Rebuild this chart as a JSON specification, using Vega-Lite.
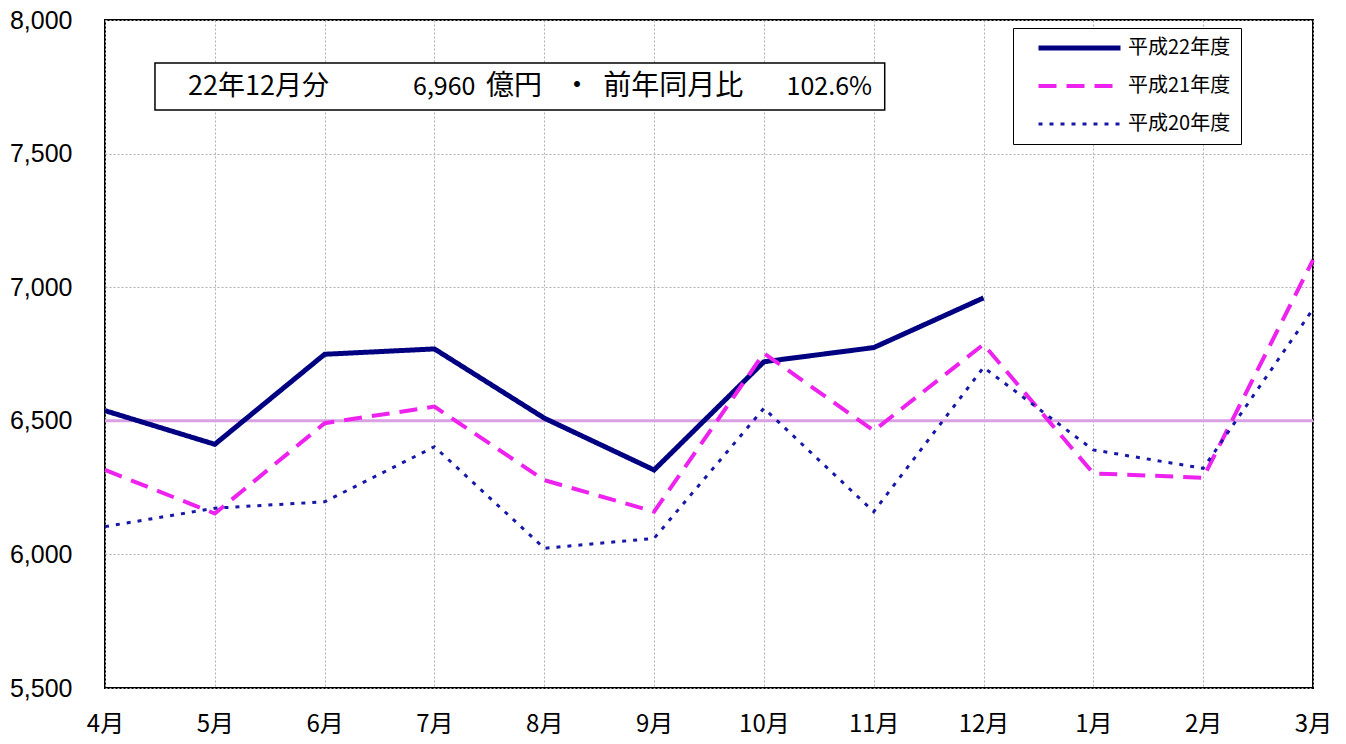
{
  "$schema": "https://vega.github.io/schema/vega-lite/v6.json",
  "width": 1208,
  "height": 668,
  "autosize": {"type": "none"},
  "padding": {"left": 105, "top": 20, "right": 33, "bottom": 56},
  "background": "white",
  "config": {
    "view": {"stroke": "black", "strokeWidth": 2},
    "font": "Noto Sans CJK JP",
    "axis": {"domain": false, "ticks": false, "gridColor": "#b0b0b0", "gridDash": [2, 2], "gridWidth": 1, "labelColor": "black", "title": null}
  },
  "layer": [
    {
      "data": {"values": [{}]},
      "mark": {"type": "rule", "color": "#d9a0e3", "strokeWidth": 3},
      "encoding": {"y": {"datum": 6500, "type": "quantitative"}}
    },
    {
      "data": {"values": [
        {"series": "平成22年度", "m": 0, "value": 6538},
        {"series": "平成22年度", "m": 1, "value": 6412},
        {"series": "平成22年度", "m": 2, "value": 6749},
        {"series": "平成22年度", "m": 3, "value": 6769},
        {"series": "平成22年度", "m": 4, "value": 6510},
        {"series": "平成22年度", "m": 5, "value": 6316},
        {"series": "平成22年度", "m": 6, "value": 6721},
        {"series": "平成22年度", "m": 7, "value": 6774},
        {"series": "平成22年度", "m": 8, "value": 6960},
        {"series": "平成21年度", "m": 0, "value": 6316},
        {"series": "平成21年度", "m": 1, "value": 6153},
        {"series": "平成21年度", "m": 2, "value": 6491},
        {"series": "平成21年度", "m": 3, "value": 6553},
        {"series": "平成21年度", "m": 4, "value": 6278},
        {"series": "平成21年度", "m": 5, "value": 6160},
        {"series": "平成21年度", "m": 6, "value": 6753},
        {"series": "平成21年度", "m": 7, "value": 6463},
        {"series": "平成21年度", "m": 8, "value": 6786},
        {"series": "平成21年度", "m": 9, "value": 6303},
        {"series": "平成21年度", "m": 10, "value": 6287},
        {"series": "平成21年度", "m": 11, "value": 7102},
        {"series": "平成20年度", "m": 0, "value": 6104},
        {"series": "平成20年度", "m": 1, "value": 6173},
        {"series": "平成20年度", "m": 2, "value": 6197},
        {"series": "平成20年度", "m": 3, "value": 6403},
        {"series": "平成20年度", "m": 4, "value": 6023},
        {"series": "平成20年度", "m": 5, "value": 6060},
        {"series": "平成20年度", "m": 6, "value": 6547},
        {"series": "平成20年度", "m": 7, "value": 6160},
        {"series": "平成20年度", "m": 8, "value": 6700},
        {"series": "平成20年度", "m": 9, "value": 6391},
        {"series": "平成20年度", "m": 10, "value": 6322},
        {"series": "平成20年度", "m": 11, "value": 6918}
      ]},
      "mark": {"type": "line", "strokeCap": "butt"},
      "encoding": {
        "x": {
          "field": "m", "type": "quantitative",
          "scale": {"domain": [0, 11], "nice": false, "zero": false},
          "axis": {
            "values": [0, 1, 2, 3, 4, 5, 6, 7, 8, 9, 10, 11],
            "labelExpr": "['4月','5月','6月','7月','8月','9月','10月','11月','12月','1月','2月','3月'][datum.value]",
            "labelFontSize": 24, "labelPadding": 24, "labelFont": "Noto Sans CJK JP",
            "labelFlush": false, "labelOverlap": false, "grid": true
          }
        },
        "y": {
          "field": "value", "type": "quantitative",
          "scale": {"domain": [5500, 8000], "nice": false, "zero": false},
          "axis": {
            "values": [5500, 6000, 6500, 7000, 7500, 8000],
            "format": ",.0f", "labelFontSize": 25, "labelFont": "Liberation Sans",
            "labelPadding": 33, "grid": true
          }
        },
        "color": {
          "field": "series", "type": "nominal",
          "scale": {"domain": ["平成22年度", "平成21年度", "平成20年度"], "range": ["#000080", "#ee22ee", "#1818a8"]},
          "legend": {
            "orient": "none", "legendX": 908, "legendY": 8, "title": null,
            "strokeColor": "black", "fillColor": "white", "padding": 10,
            "clipHeight": 20, "rowPadding": 18, "symbolType": "stroke",
            "symbolSize": 6724, "symbolOffset": 13, "labelOffset": 5,
            "labelFontSize": 20, "labelFont": "Noto Sans CJK JP", "labelColor": "black",
            "labelLimit": 300
          }
        },
        "strokeDash": {
          "field": "series", "type": "nominal",
          "scale": {"domain": ["平成22年度", "平成21年度", "平成20年度"], "range": [[1, 0], [18, 10], [4, 7]]},
          "legend": null
        },
        "strokeWidth": {
          "field": "series", "type": "nominal",
          "scale": {"domain": ["平成22年度", "平成21年度", "平成20年度"], "range": [5, 3, 3.5]},
          "legend": null
        }
      }
    },
    {
      "data": {"values": [{}]},
      "mark": {"type": "rect", "fill": "white", "stroke": "black", "strokeWidth": 1.5},
      "encoding": {
        "x": {"datum": 0.455, "type": "quantitative"},
        "x2": {"datum": 7.1},
        "y": {"datum": 7839, "type": "quantitative"},
        "y2": {"datum": 7663}
      }
    },
    {
      "data": {"values": [{}]},
      "mark": {"type": "text", "text": "22年12月分", "align": "left", "baseline": "middle", "fontSize": 27, "font": "Noto Sans CJK JP", "color": "black"},
      "encoding": {"x": {"datum": 0.756, "type": "quantitative"}, "y": {"datum": 7749, "type": "quantitative"}}
    },
    {
      "data": {"values": [{}]},
      "mark": {"type": "text", "text": "6,960", "align": "left", "baseline": "middle", "fontSize": 25, "font": "Noto Sans CJK JP", "color": "black"},
      "encoding": {"x": {"datum": 2.805, "type": "quantitative"}, "y": {"datum": 7749, "type": "quantitative"}}
    },
    {
      "data": {"values": [{}]},
      "mark": {"type": "text", "text": "億円", "align": "left", "baseline": "middle", "fontSize": 28, "font": "Noto Sans CJK JP", "color": "black"},
      "encoding": {"x": {"datum": 3.47, "type": "quantitative"}, "y": {"datum": 7749, "type": "quantitative"}}
    },
    {
      "data": {"values": [{}]},
      "mark": {"type": "text", "text": "・", "align": "center", "baseline": "middle", "fontSize": 28, "font": "Noto Sans CJK JP", "color": "black"},
      "encoding": {"x": {"datum": 4.299, "type": "quantitative"}, "y": {"datum": 7749, "type": "quantitative"}}
    },
    {
      "data": {"values": [{}]},
      "mark": {"type": "text", "text": "前年同月比", "align": "left", "baseline": "middle", "fontSize": 28, "font": "Noto Sans CJK JP", "color": "black"},
      "encoding": {"x": {"datum": 4.536, "type": "quantitative"}, "y": {"datum": 7749, "type": "quantitative"}}
    },
    {
      "data": {"values": [{}]},
      "mark": {"type": "text", "text": "102.6%", "align": "right", "baseline": "middle", "fontSize": 25, "font": "Noto Sans CJK JP", "color": "black"},
      "encoding": {"x": {"datum": 6.985, "type": "quantitative"}, "y": {"datum": 7749, "type": "quantitative"}}
    }
  ]
}
